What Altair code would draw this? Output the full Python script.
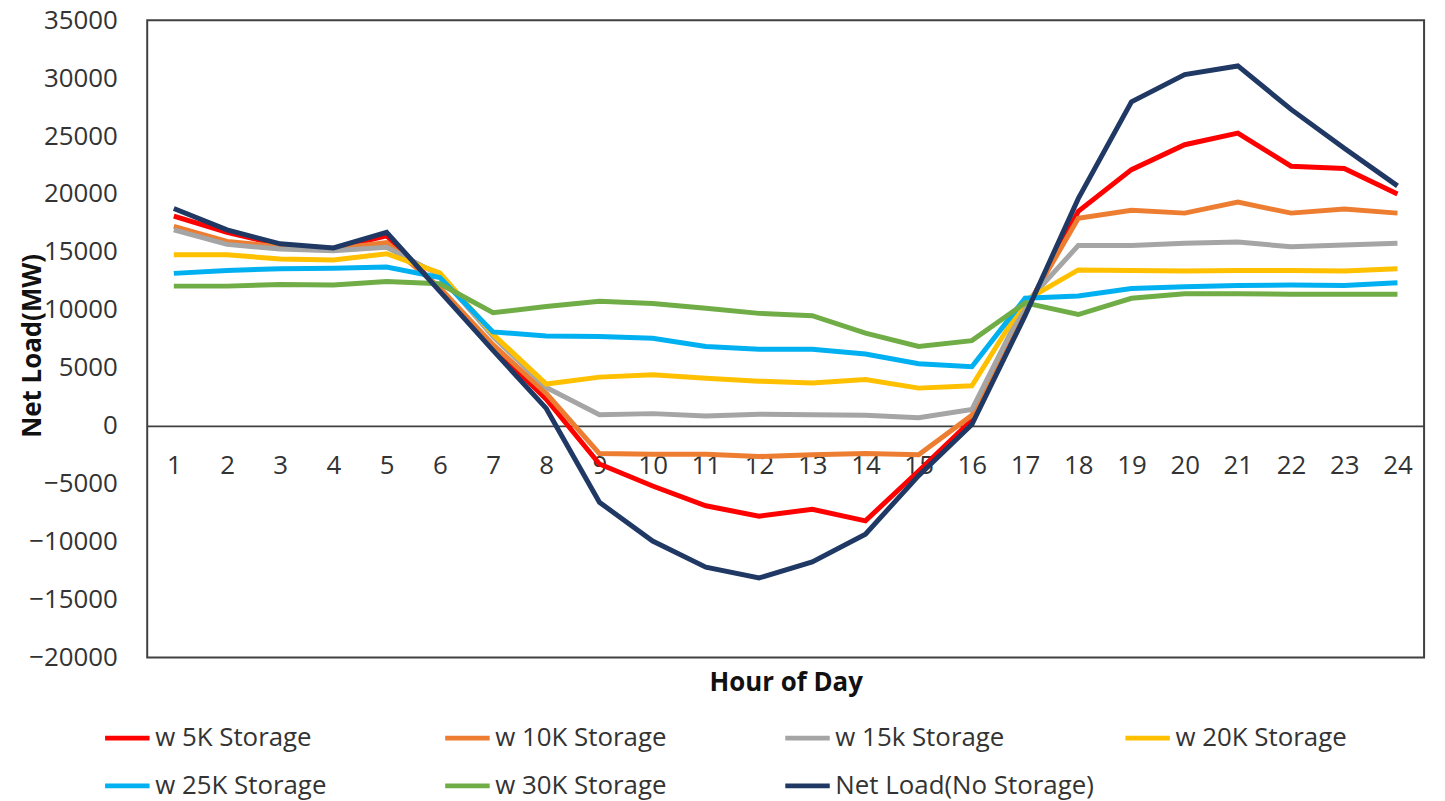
import altair as alt
import pandas as pd

hours = list(range(1, 25))

series_names = [
    "w 5K Storage",
    "w 10K Storage",
    "w 15k Storage",
    "w 20K Storage",
    "w 25K Storage",
    "w 30K Storage",
    "Net Load(No Storage)",
]
series_colors = ["#FF0000", "#ED7D31", "#A5A5A5", "#FFC000", "#00B0F0", "#70AD47", "#203864"]

s5k = [18100, 16700, 15600, 15300, 16400, 11800, 6800, 2300, -3300, -5200, -6900, -7800,
       -7200, -8200, -3900, 500, 9800, 18500, 22100, 24250, 25250, 22400, 22200, 20000]
s10k = [17200, 15900, 15450, 15250, 15800, 11900, 7000, 2800, -2400, -2450, -2450, -2650,
        -2500, -2400, -2500, 900, 10000, 17900, 18600, 18350, 19300, 18350, 18700, 18350]
s15k = [16900, 15650, 15250, 15100, 15400, 13000, 7700, 3300, 950, 1050, 850, 1000,
        950, 900, 700, 1400, 10500, 15550, 15550, 15750, 15850, 15450, 15600, 15750]
s20k = [14750, 14750, 14400, 14300, 14850, 13200, 7900, 3600, 4200, 4400, 4100, 3850,
        3700, 4000, 3250, 3450, 10800, 13450, 13400, 13350, 13400, 13400, 13350, 13550]
s25k = [13150, 13400, 13550, 13600, 13700, 12800, 8100, 7750, 7700, 7550, 6850, 6600,
        6600, 6200, 5350, 5100, 11000, 11200, 11850, 12000, 12100, 12150, 12100, 12350]
s30k = [12050, 12050, 12200, 12150, 12450, 12250, 9750, 10300, 10750, 10550, 10150, 9700,
        9500, 8000, 6850, 7350, 10600, 9600, 11000, 11400, 11400, 11350, 11350, 11350]
net_load = [18750, 16900, 15700, 15350, 16700, 11600, 6500, 1500, -6600, -9950, -12200, -13130,
            -11750, -9350, -4300, 100, 9500, 19600, 27950, 30300, 31050, 27300, 23950, 20700]

y_ticks = list(range(-20000, 35001, 5000))

all_series = [s5k, s10k, s15k, s20k, s25k, s30k, net_load]
rows = []
for idx, (name, vals) in enumerate(zip(series_names, all_series)):
    for h, v in zip(hours, vals):
        rows.append({"series": name, "hour": h, "value": v, "order": idx})
df = pd.DataFrame(rows)

FONT = "Open Sans"
TXT = "#333333"

chart = (
    alt.Chart(df)
    .mark_line(strokeWidth=5)
    .encode(
        x=alt.X(
            "hour:O",
            sort=hours,
            scale=alt.Scale(type="point", padding=0.5),
            axis=alt.Axis(
                title="Hour of Day",
                orient="bottom",
                offset=-233,
                ticks=False,
                domain=True,
                domainColor="#404040",
                domainWidth=2,
                labelAngle=0,
                labelFontSize=26,
                labelColor=TXT,
                labelPadding=27,
                titleFontSize=26,
                titleFontWeight="bold",
                titleColor="#111111",
                titleY=258,
                titleBaseline="middle",
                grid=False,
            ),
        ),
        y=alt.Y(
            "value:Q",
            scale=alt.Scale(domain=[-20000, 35000], nice=False, zero=False),
            axis=alt.Axis(
                values=y_ticks,
                format="d",
                ticks=False,
                domain=False,
                grid=False,
                labelFontSize=26,
                labelColor=TXT,
                labelPadding=30,
                title="Net Load(MW)",
                titleFontSize=26,
                titleFontWeight="bold",
                titleColor="#111111",
                titleX=-115,
                titleY=327,
                titleAngle=270,
                titleAlign="center",
                titleBaseline="middle",
            ),
        ),
        color=alt.Color(
            "series:N",
            sort=series_names,
            scale=alt.Scale(domain=series_names, range=series_colors),
            legend=alt.Legend(
                title=None,
                orient="none",
                legendX=-45,
                legendY=697,
                direction="horizontal",
                columns=4,
                gridAlign="all",
                symbolType="stroke",
                symbolStrokeWidth=5,
                symbolSize=2000,
                labelFontSize=26,
                labelColor=TXT,
                labelOffset=3,
                labelLimit=400,
                columnPadding=20,
                rowPadding=10,
            ),
        ),
        order=alt.Order("order:Q"),
    )
    .properties(
        width=1284,
        height=641,
        autosize="none",
        padding={"left": 140, "top": 10, "right": 13, "bottom": 142},
    )
    .configure(font=FONT)
    .configure_view(stroke="#404040", strokeWidth=2)
)

chart.save("out.html", embed_options={"renderer": "svg", "actions": False})
